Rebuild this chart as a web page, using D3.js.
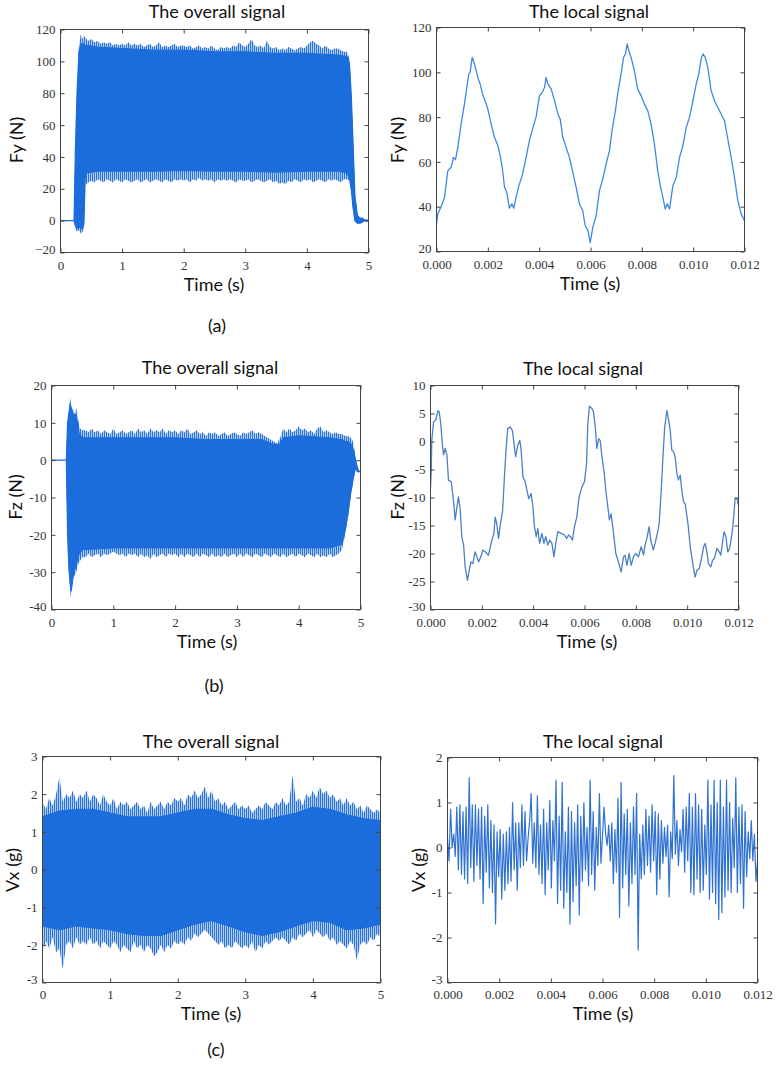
<!DOCTYPE html>
<html><head><meta charset="utf-8">
<script src="https://cdn.jsdelivr.net/npm/d3@7"></script>
<style>
body{margin:0;background:#fff;}
svg{display:block;}
.ttl{font-family:Lato,"Open Sans",sans-serif;font-size:18px;fill:#111;}
</style></head><body>
<svg id="chart" width="777" height="1067"></svg>
<script>
// ---------------- DATA ----------------
const overallTicksX = [0, 1, 2, 3, 4, 5];
const localTicksX = [0, 0.002, 0.004, 0.006, 0.008, 0.010, 0.012];
const fyOverallTicksY = [-20, 0, 20, 40, 60, 80, 100, 120];
const fyLocalTicksY = [20, 40, 60, 80, 100, 120];
const fzOverallTicksY = [-40, -30, -20, -10, 0, 10, 20];
const fzLocalTicksY = [-30, -25, -20, -15, -10, -5, 0, 5, 10];
const vxOverallTicksY = [-3, -2, -1, 0, 1, 2, 3];
const vxLocalTicksY = [-3, -2, -1, 0, 1, 2];

// (a) overall Fy envelope (peaks)
const fyEnvT = [0, 0.22, 0.24, 0.27, 0.30, 0.33, 0.36, 0.38,
  0.40, 0.45, 0.50, 0.55, 0.60, 0.65, 0.70, 0.75, 0.80, 0.85, 0.90, 0.95,
  1.00, 1.05, 1.10, 1.15, 1.20, 1.25, 1.30, 1.35, 1.40, 1.45, 1.50, 1.55, 1.60, 1.65, 1.70, 1.75, 1.80, 1.85, 1.90, 1.95,
  2.00, 2.05, 2.10, 2.15, 2.20, 2.25, 2.30, 2.35, 2.40, 2.45, 2.50, 2.55, 2.60, 2.65, 2.70, 2.75, 2.80, 2.85, 2.90, 2.95,
  3.00, 3.05, 3.10, 3.15, 3.20, 3.25, 3.30, 3.35, 3.40, 3.45, 3.50, 3.55, 3.60, 3.65, 3.70, 3.75, 3.80, 3.85, 3.90, 3.95,
  4.00, 4.05, 4.10, 4.15, 4.20, 4.25, 4.30, 4.35, 4.40, 4.45, 4.50, 4.55, 4.60, 4.65,
  4.69, 4.72, 4.75, 4.78, 4.82, 4.86, 4.90, 4.93, 5.00];
const fyEnvHi = [0, 0, 45, 85, 110, 117, 114, 116,
  115, 113, 114, 112, 113, 111, 112, 111, 112, 110, 111, 110,
  111, 110, 112, 110, 111, 110, 111, 109, 110, 111, 109, 110, 112, 109, 110, 109, 110, 111, 109, 110,
  110, 109, 110, 108, 109, 110, 108, 109, 108, 110, 108, 107, 109, 108, 109, 108, 110, 109, 112, 110,
  109, 111, 114, 110, 109, 110, 108, 113, 109, 108, 109, 107, 108, 107, 109, 108, 107, 108, 109, 108,
  110, 112, 113, 111, 110, 108, 110, 108, 107, 108, 108, 107, 106, 106,
  102, 82, 52, 18, 4, 2, 2, 1, 0.5];
const fyEnvLo = [0, 0, -5, -7, -6, -8, -7, -4,
  22, 24, 25, 24, 26, 25, 24, 26, 25, 24, 26, 25,
  24, 26, 25, 24, 25, 26, 24, 25, 26, 24, 25, 26, 25, 24, 26, 25, 24, 26, 25, 26,
  25, 26, 24, 26, 25, 27, 25, 26, 25, 26, 24, 26, 25, 26, 25, 26, 25, 24, 26, 25,
  25, 26, 24, 25, 26, 25, 24, 25, 26, 24, 25, 23, 24, 23, 25, 24, 26, 25, 24, 26,
  25, 26, 24, 25, 26, 25, 24, 26, 25, 26, 25, 24, 26, 26,
  25, 18, 6, -1, -2, -2, -1.5, 0, 0];
// (a) overall Fy dense core
const fyCoreT = [0, 0.22, 0.24, 0.27, 0.30, 0.33, 0.36, 0.38, 0.40, 0.42, 0.6, 1.0, 1.5, 2.0, 2.5, 3.0, 3.5, 4.0, 4.5, 4.65, 4.69, 4.72, 4.75, 4.78, 4.82, 4.86, 4.90, 4.93, 5.0];
const fyCoreHi = [0, 0, 42, 82, 106, 111, 111, 111, 110, 110, 109, 108, 107, 107, 106, 106, 105, 105, 104, 103, 99, 79, 48, 15, 3, 1.5, 1.5, 0.5, 0];
const fyCoreLo = [0, 0, -3, -5, -4, -5, -5, -2, 26, 30, 31, 31, 31, 31.5, 31, 31, 30.5, 31, 31, 30, 27, 20, 8, 0, -1.5, -1.5, -1, 0, 0];

// (a) local Fy
const fyLocalT = [0, 0.00005, 0.00018, 0.00031, 0.00044, 0.00057, 0.00066, 0.00074, 0.00083, 0.00096,
  0.00109, 0.00118, 0.00126, 0.00131, 0.00139, 0.00148, 0.00161, 0.00170, 0.00181, 0.00187,
  0.00200, 0.00213, 0.00226, 0.00239, 0.00248, 0.00256, 0.00265, 0.00274, 0.00284, 0.00294,
  0.00301, 0.00310, 0.00321, 0.00334, 0.00349, 0.00362, 0.00378, 0.00388, 0.00401, 0.00412,
  0.00421, 0.00427, 0.00434, 0.00447, 0.00460, 0.00473, 0.00482, 0.00492, 0.00505, 0.00518,
  0.00531, 0.00544, 0.00557, 0.00570, 0.00579, 0.00590, 0.00599, 0.00609, 0.00622, 0.00635,
  0.00648, 0.00661, 0.00674, 0.00684, 0.00697, 0.00706, 0.00719, 0.00729, 0.00736, 0.00743,
  0.00749, 0.00758, 0.00771, 0.00784, 0.00797, 0.00810, 0.00823, 0.00836, 0.00849, 0.00862,
  0.00873, 0.00882, 0.00891, 0.00899, 0.00908, 0.00921, 0.00934, 0.00947, 0.00960, 0.00973,
  0.00986, 0.00999, 0.01012, 0.01022, 0.01031, 0.01038, 0.01047, 0.01057, 0.01070, 0.01083,
  0.01096, 0.01109, 0.01122, 0.01135, 0.01148, 0.01161, 0.01174, 0.01187, 0.012];
const fyLocalV = [32.3, 36.8, 40, 44, 56, 57.6, 62, 61, 66.5, 77,
  86, 93.3, 99.3, 100, 106.7, 103.7, 97.7, 94.8, 89.6, 88,
  83.6, 76.9, 71, 67.2, 62.8, 57.6, 48.7, 46.4, 39.3, 41.3,
  39.3, 44.2, 49.4, 53.9, 62, 69.5, 76.2, 80, 89.6, 91,
  93.3, 97.7, 94.8, 92.5, 87.3, 81.4, 79.1, 71, 66.5, 62,
  55.3, 48.7, 41.2, 38.2, 31.6, 29.3, 24, 30.8, 36, 47.2,
  52.4, 59.1, 65, 74, 82.9, 90.3, 99.3, 106.7, 108.2, 112.7,
  109.7, 106.7, 100.8, 92.5, 89.6, 85.8, 82.9, 76.9, 68, 56,
  48.7, 44.2, 39, 41.3, 39, 49.4, 53, 62, 67.3, 75.4,
  80, 87.3, 94.8, 99.3, 106, 108.2, 106.7, 102.2, 91.8, 87.3,
  84.3, 81.4, 78.4, 70.2, 62, 53, 42.7, 36.8, 33.8];

// (b) overall Fz envelope (peaks)
const fzEnvT = [0, 0.24, 0.26, 0.28, 0.30, 0.31, 0.33, 0.35, 0.37, 0.40, 0.43, 0.46, 0.50,
  0.55, 0.60, 0.65, 0.70, 0.75, 0.80, 0.85, 0.90, 0.95,
  1.00, 1.05, 1.10, 1.15, 1.20, 1.25, 1.30, 1.35, 1.40, 1.45, 1.50, 1.55, 1.60, 1.65, 1.70, 1.75, 1.80, 1.85, 1.90, 1.95,
  2.00, 2.05, 2.10, 2.15, 2.20, 2.25, 2.30, 2.35, 2.40, 2.45, 2.50, 2.55, 2.60, 2.65, 2.70, 2.75, 2.80, 2.85, 2.90, 2.95,
  3.00, 3.05, 3.10, 3.15, 3.20, 3.25, 3.30, 3.35, 3.40, 3.45, 3.50, 3.55, 3.60, 3.65, 3.70, 3.75, 3.80, 3.85, 3.90, 3.95,
  4.00, 4.05, 4.10, 4.15, 4.20, 4.25, 4.30, 4.35, 4.40, 4.45, 4.50, 4.55, 4.60, 4.65, 4.70, 4.75, 4.80,
  4.84, 4.88, 4.92, 4.95, 4.97, 5.00];
const fzEnvHi = [0, 0, 12, 13, 16.5, 16, 13, 14, 12, 14, 11, 8.5, 8,
  8, 7.5, 8.5, 7.5, 8, 7, 8, 7.5, 7,
  8.5, 7, 7.5, 8, 7, 7.5, 8, 7, 8.5, 7.5, 8, 7, 8.5, 7.5, 8, 7.5, 8.5, 7, 8, 7.5,
  8, 7, 8, 7.5, 8.5, 7, 7.5, 8, 7, 7.5, 6.5, 7.5, 7, 7.5, 6.5, 7, 7.5, 6.5, 7, 7.5,
  7, 6.5, 7.5, 7, 7.5, 8, 7, 7.5, 7, 6.5, 6, 5.5, 5, 4.5, 6, 8.5, 7.5, 8.5, 7.5, 8,
  9, 8, 8.5, 7.5, 8, 7, 8.5, 9, 7.5, 8, 7.5, 7, 7.5, 7, 7, 6.5, 6.5,
  6, 5, 1, -2, -3, -3];
const fzEnvLo = [0, 0, -22, -30, -34, -37, -34, -32, -31, -30, -28, -27, -26,
  -26, -25, -26, -25.5, -25, -26, -25, -25.5, -25,
  -24.5, -25, -25.5, -25, -26, -25, -25.5, -25, -26, -25, -26, -25.5, -26.5, -25, -26, -25.5, -25, -26, -25, -25.5,
  -25, -26, -25, -26, -25, -25.5, -26, -25, -26, -25, -25.5, -26, -25, -26, -25.5, -26, -25, -26, -25.5, -25,
  -26, -25, -26, -25, -25.5, -26, -25, -25.5, -26, -25, -25.5, -26, -25, -25.5, -26, -25, -26, -25.5, -25, -26,
  -25, -25.5, -26, -25, -25.5, -26, -25, -26, -25.5, -26, -25, -26, -25.5, -25, -24, -20, -15,
  -10, -6, -2, -3, -3.5, -3];
// (b) overall Fz dense core
const fzCoreT = [0, 0.24, 0.26, 0.28, 0.30, 0.32, 0.35, 0.40, 0.45, 0.5, 1.0, 1.5, 2.0, 2.5, 3.0, 3.4, 3.55, 3.68, 3.75, 4.0, 4.5, 4.7, 4.75, 4.80, 4.84, 4.88, 4.92, 4.95, 4.97, 5.0];
const fzCoreHi = [0, 0, 10, 12, 15, 14, 12.5, 12, 7, 6, 6, 6, 6, 5.5, 5.5, 5.5, 4.5, 4, 6, 6.5, 6, 5.5, 5, 5, 4.5, 3, 0, -2, -3, -3];
const fzCoreLo = [0, 0, -20, -28, -33, -35, -31, -28, -25, -24, -23.5, -23.5, -23.5, -23.5, -23.5, -23.5, -23.5, -23.5, -23.5, -23.5, -23.5, -22.5, -19, -14, -9, -5, -2, -3, -3, -3];

// (b) local Fz
const fzLocalT = [0, 0.00003, 0.00005, 0.00012, 0.00021, 0.00029, 0.00034, 0.00040, 0.00047, 0.00051,
  0.00057, 0.00064, 0.00070, 0.00081, 0.00090, 0.00096, 0.00103, 0.00109, 0.00116, 0.00122,
  0.00129, 0.00135, 0.00144, 0.00152, 0.00158, 0.00165, 0.00174, 0.00181, 0.00187, 0.00196,
  0.00204, 0.00213, 0.00226, 0.00239, 0.00247, 0.00252, 0.00258, 0.00265, 0.00271, 0.00281,
  0.00288, 0.00295, 0.00301, 0.00310, 0.00319, 0.00326, 0.00332, 0.00340, 0.00348, 0.00353,
  0.00360, 0.00369, 0.00377, 0.00383, 0.00392, 0.00399, 0.00405, 0.00412, 0.00418, 0.00425,
  0.00434, 0.00442, 0.00449, 0.00457, 0.00465, 0.00473, 0.00481, 0.00488, 0.00496, 0.00509,
  0.00522, 0.00530, 0.00538, 0.00545, 0.00553, 0.00561, 0.00570, 0.00579, 0.00590, 0.00600,
  0.00608, 0.00613, 0.00619, 0.00629, 0.00635, 0.00642, 0.00648, 0.00655, 0.00661, 0.00668,
  0.00677, 0.00683, 0.00691, 0.00697, 0.00704, 0.00713, 0.00722, 0.00732, 0.00743, 0.00752,
  0.00758, 0.00765, 0.00774, 0.00782, 0.00791, 0.00800, 0.00810, 0.00821, 0.00830, 0.00836,
  0.00843, 0.00852, 0.00858, 0.00868, 0.00875, 0.00884, 0.00891, 0.00899, 0.00905, 0.00912,
  0.00921, 0.00927, 0.00934, 0.00940, 0.00947, 0.00953, 0.00960, 0.00966, 0.00973, 0.00979,
  0.00986, 0.00992, 0.01003, 0.01012, 0.01022, 0.01031, 0.01038, 0.01047, 0.01057, 0.01064,
  0.01070, 0.01077, 0.01083, 0.01092, 0.01099, 0.01106, 0.01116, 0.01125, 0.01131, 0.01139,
  0.01144, 0.01151, 0.01158, 0.01165, 0.01171, 0.01178, 0.01187, 0.01194, 0.012];
const fzLocalV = [-8.4, -5.1, 0.2, 3.5, 3.9, 5.5, 5.3, 3.2, -1, -2.4,
  -1.25, -2.4, -6.9, -7.2, -10.8, -14, -11.7, -9.9, -12.3, -17,
  -18.5, -22.4, -24.8, -22.7, -21.5, -21.8, -19.7, -20.6, -21.5, -20.6,
  -19.4, -19.7, -20.3, -17.6, -16.4, -13.5, -14.6, -17.3, -15.2, -12.3,
  -6.3, -1, 2.3, 2.6, 2, -0.65, -2.7, -0.65, 0.2, -1.5,
  -6.3, -7.2, -9, -10.2, -9.3, -11.7, -15.2, -17, -15.5, -18.2,
  -16.4, -18.2, -17, -18.5, -17.6, -18.2, -20.6, -18.2, -16.1, -16.4,
  -16.7, -17.3, -16.7, -17, -17.6, -15.2, -13.5, -9.9, -8.1, -7.2,
  -3.9, 3.2, 6.3, 5.9, 5.3, 2.6, -1.25, 0.5, 0.2, -2.7,
  -5.7, -8.7, -11.7, -14, -12.9, -16.4, -20, -21.5, -23.3, -20.6,
  -20.3, -22.1, -20, -22.1, -20.6, -20, -20.6, -18.8, -20.3, -18.5,
  -17.3, -15.2, -17.6, -19.4, -18.2, -16.4, -14.6, -8.7, -3.3, 2.3,
  5.5, 4.1, 2, -1.5, -1.8, -2.7, -5.7, -6.9, -6, -8.7,
  -10.8, -11.1, -14.6, -18.8, -21.8, -24.2, -23, -22.7, -20.6, -18.8,
  -18.2, -19.7, -21.8, -22.4, -21.2, -20.9, -19.1, -19.7, -20.3, -17.6,
  -16.1, -17, -19.7, -19.1, -17.6, -15.2, -10.2, -10.2, -11.4];

// (c) overall Vx envelope (peaks), 0..5 s
const vxEnvT = [0, 0.05, 0.10, 0.15, 0.20, 0.25, 0.30, 0.35, 0.40, 0.45, 0.50, 0.55, 0.60, 0.65, 0.70, 0.75, 0.80, 0.85, 0.90, 0.95,
  1.00, 1.05, 1.10, 1.15, 1.20, 1.25, 1.30, 1.35, 1.40, 1.45, 1.50, 1.55, 1.60, 1.65, 1.70, 1.75, 1.80, 1.85, 1.90, 1.95,
  2.00, 2.05, 2.10, 2.15, 2.20, 2.25, 2.30, 2.35, 2.40, 2.45, 2.50, 2.55, 2.60, 2.65, 2.70, 2.75, 2.80, 2.85, 2.90, 2.95,
  3.00, 3.05, 3.10, 3.15, 3.20, 3.25, 3.30, 3.35, 3.40, 3.45, 3.50, 3.55, 3.60, 3.65, 3.70, 3.75, 3.80, 3.85, 3.90, 3.95,
  4.00, 4.05, 4.10, 4.15, 4.20, 4.25, 4.30, 4.35, 4.40, 4.45, 4.50, 4.55, 4.60, 4.65, 4.70, 4.75, 4.80, 4.85, 4.90, 4.95, 5.00];
const vxEnvHi = [1.8, 1.6, 1.9, 1.7, 2.0, 2.45, 1.8, 2.0, 1.9, 2.1, 1.8, 2.0, 1.9, 2.1, 1.8, 2.0, 1.9, 1.7, 2.0, 1.8,
  1.7, 1.9, 1.6, 1.8, 1.7, 1.8, 1.6, 1.7, 1.8, 1.6, 1.7, 1.5, 1.8, 1.6, 1.7, 1.8, 1.6, 1.8, 1.7, 1.9,
  1.8, 1.9, 1.7, 2.0, 1.9, 2.1, 1.9, 2.0, 2.2, 1.9, 2.1, 1.8, 1.9, 1.7, 1.8, 1.6, 1.7, 1.8, 1.6, 1.7,
  1.6, 1.7, 1.5, 1.6, 1.7, 1.6, 1.8, 1.7, 1.6, 1.8, 1.7, 1.9, 1.7, 1.8, 2.5, 1.8, 1.9, 1.7, 2.0, 1.9,
  2.1, 1.9, 2.2, 2.0, 2.1, 1.9, 2.0, 1.8, 1.9, 1.7, 1.9, 1.7, 1.8, 1.6, 1.7, 1.5, 1.7, 1.6, 1.5, 1.6, 1.5];
const vxEnvLo = [-2.2, -1.9, -2.1, -1.8, -2.2, -2.1, -2.65, -2.0, -1.9, -2.1, -1.8, -2.0, -1.9, -2.0, -1.8, -2.0, -1.9, -2.1, -1.9, -2.0,
  -2.1, -1.9, -2.0, -2.2, -2.0, -2.1, -2.2, -1.9, -2.1, -2.0, -2.2, -2.0, -2.1, -2.3, -2.2, -2.0, -2.2, -2.0, -2.1, -1.9,
  -2.0, -1.9, -2.0, -1.8, -1.9, -1.7, -1.8, -1.7, -1.6, -1.7, -1.8, -1.9, -2.0, -1.9, -2.1, -2.0, -2.1, -1.9, -2.0, -2.1,
  -2.0, -2.1, -1.9, -2.2, -2.0, -2.1, -1.9, -2.0, -1.9, -1.8, -1.9, -1.8, -1.9, -2.0, -1.8, -1.9, -1.7, -1.8, -1.7, -1.6,
  -1.8, -1.6, -1.7, -1.8, -1.7, -1.9, -1.8, -2.0, -1.9, -2.0, -2.1, -1.9, -2.0, -2.4, -2.0, -1.9, -2.0, -1.8, -1.9, -1.7, -1.8];
// (c) overall Vx dense core
const vxCoreT = [0, 0.25, 0.5, 0.75, 1.0, 1.25, 1.5, 1.75, 2.0, 2.25, 2.5, 2.75, 3.0, 3.25, 3.5, 3.75, 4.0, 4.25, 4.5, 4.75, 5.0];
const vxCoreHi = [1.4, 1.55, 1.6, 1.6, 1.5, 1.4, 1.4, 1.4, 1.5, 1.6, 1.6, 1.45, 1.35, 1.3, 1.4, 1.5, 1.65, 1.6, 1.45, 1.35, 1.3];
const vxCoreLo = [-1.5, -1.6, -1.5, -1.55, -1.6, -1.7, -1.75, -1.75, -1.6, -1.45, -1.35, -1.5, -1.65, -1.75, -1.65, -1.5, -1.35, -1.4, -1.6, -1.55, -1.45];

// (c) local Vx, sampled every 0.00006 s from 0 to 0.012 s
const vxLocalDt = 0.00006;
const vxLocalV = [0.2, -0.3, 0.85, 0.0, 0.3, -0.2, 0.9, -0.5, 0.95, -0.6,
  0.8, -0.7, 0.9, -0.8, 1.55, -0.45, 0.95, -0.75, 0.95, -0.4,
  0.85, -0.7, 0.9, -1.25, 0.7, -0.55, 0.95, -0.9, 0.6, -1.0,
  0.5, -1.7, 0.35, -0.65, 0.4, -1.15, 0.3, -0.95, 0.35, -0.8,
  0.45, -0.75, 1.0, -0.5, 0.55, -0.95, 0.55, -0.45, 0.95, -0.4,
  0.8, -0.3, 0.2, 0.6, 1.2, -0.35, 0.55, -0.45, 1.15, -0.6,
  0.5, -0.8, 0.85, -1.05, 0.55, -0.5, 1.05, -0.9, 0.6, -0.3,
  1.5, -1.25, 0.7, -0.95, 1.45, -1.35, 0.35, -1.0, 0.9, -1.7,
  0.8, -1.2, 0.55, -0.85, 0.95, -1.5, 0.7, -0.75, 1.0, -0.5,
  0.45, -0.85, 1.5, -0.6, 0.8, -0.95, 0.45, -0.4, 1.2, -0.35,
  0.25, 0.9, 0.3, 0.05, 0.5, -0.3, 0.55, -0.8, 0.4, -0.55,
  1.1, -1.55, 1.45, -0.9, 0.75, -0.6, 0.85, -1.3, 0.55, -0.8,
  0.9, -0.6, 1.2, -2.28, 0.3, -0.7, 0.5, -0.6, 0.85, -0.4,
  0.7, -0.55, 0.95, -0.3, 0.8, -1.05, 0.75, -0.7, 0.6, -0.35,
  0.45, -0.2, 0.5, -1.1, 0.35, -0.25, 1.6, -0.15, 0.6, -0.4,
  0.4, -0.1, 0.85, -0.55, 0.9, -0.3, 1.2, -1.0, 0.9, -1.05,
  1.2, -0.7, 0.95, -1.0, 0.85, -0.95, 0.5, -0.6, 1.5, -1.15,
  0.95, -1.0, 1.5, -1.25, 1.0, -1.6, 1.5, -1.45, 0.9, -1.1,
  1.5, -0.95, 1.0, -1.0, 0.65, -0.45, 1.55, -1.0, 0.9, -0.8,
  0.95, -1.35, 0.8, -0.65, 0.35, -0.25, 0.6, -0.3, 0.3, -0.75,
  -0.3];

// ---------------- DRAWING ----------------
const svg = d3.select("#chart");
const defs = svg.append("defs");
const hyphenFmt = d => (d < 0 ? "-" + Math.abs(d) : String(d));
const localFmt = d3.format(".3f");
const SERIF = '"Liberation Serif", "Times New Roman", Times, serif';

// vertical hair texture for the ragged fringe of the dense signal
const pat = defs.append("pattern").attr("id", "hair").attr("patternUnits", "userSpaceOnUse")
  .attr("width", 2).attr("height", 8);
pat.append("rect").attr("width", 2).attr("height", 8).attr("fill", "#b2cdf0");
pat.append("rect").attr("width", 1).attr("height", 8).attr("fill", "#2b74dc");

function makePanel(c) {
  const x = d3.scaleLinear().domain(c.xDomain).range([c.L, c.R]);
  const y = d3.scaleLinear().domain(c.yDomain).range([c.B, c.T]);
  defs.append("clipPath").attr("id", c.id).append("rect")
    .attr("x", c.L).attr("y", c.T).attr("width", c.R - c.L).attr("height", c.B - c.T);
  const data = svg.append("g").attr("clip-path", `url(#${c.id})`);
  const finish = () => {
    const ax = svg.append("g");
    const tuneAxis = g => {
      g.attr("font-family", null).attr("font-size", null);
      g.select(".domain").remove();
      g.selectAll("line").attr("stroke", "#444");
      g.selectAll("text").style("font-family", SERIF).style("font-size", "13px").style("fill", "#333");
    };
    ax.append("g").attr("transform", `translate(0,${c.B})`)
      .call(d3.axisBottom(x).tickValues(c.xTicks).tickFormat(c.xFmt).tickSizeInner(-4).tickSizeOuter(0).tickPadding(c.xPad)).call(tuneAxis);
    ax.append("g").attr("transform", `translate(0,${c.T})`)
      .call(d3.axisTop(x).tickValues(c.xTicks).tickFormat("").tickSizeInner(-4).tickSizeOuter(0)).call(tuneAxis);
    const yAx = ax.append("g").attr("transform", `translate(${c.L},0)`)
      .call(d3.axisLeft(y).tickValues(c.yTicks).tickFormat(c.yFmt).tickSizeInner(-4).tickSizeOuter(0).tickPadding(5)).call(tuneAxis);
    // lift the lowest y label a little so it does not sit on the first x label
    yAx.selectAll(".tick").filter(d => d === c.yDomain[0]).select("text").attr("dy", "0.1em");
    ax.append("g").attr("transform", `translate(${c.R},0)`)
      .call(d3.axisRight(y).tickValues(c.yTicks).tickFormat("").tickSizeInner(-4).tickSizeOuter(0)).call(tuneAxis);
    ax.append("rect").attr("x", c.L).attr("y", c.T).attr("width", c.R - c.L).attr("height", c.B - c.T)
      .attr("fill", "none").attr("stroke", "#444").attr("stroke-width", 1);
    svg.append("text").attr("class", "ttl").attr("x", c.titleX).attr("y", c.titleY).attr("text-anchor", "middle").text(c.title);
    svg.append("text").attr("class", "ttl").attr("x", c.xLabX).attr("y", c.xLabY).attr("text-anchor", "middle").text("Time (s)");
    svg.append("text").attr("class", "ttl").attr("text-anchor", "middle").attr("dominant-baseline", "central")
      .attr("transform", `translate(${c.yLabX},${c.yLabY}) rotate(-90)`).text(c.yLabel);
  };
  return { x, y, data, finish };
}

function drawOverall(p, envT, envHi, envLo, coreT, coreHi, coreLo) {
  const env = envT.map((t, i) => ({ t, hi: envHi[i], lo: envLo[i] }));
  const core = coreT.map((t, i) => ({ t, hi: coreHi[i], lo: coreLo[i] }));
  p.data.append("path").datum(env)
    .attr("d", d3.area().x(d => p.x(d.t)).y0(d => p.y(d.lo)).y1(d => p.y(d.hi)))
    .attr("fill", "url(#hair)");
  p.data.append("path").datum(core)
    .attr("d", d3.area().x(d => p.x(d.t)).y0(d => p.y(d.lo)).y1(d => p.y(d.hi)))
    .attr("fill", "#1c6ddc").attr("stroke", "#1c6ddc").attr("stroke-width", 1.2).attr("stroke-linejoin", "round");
}

function drawLocal(p, ts, vs, color, w) {
  const pts = ts.map((t, i) => [t, vs[i]]);
  p.data.append("path").datum(pts)
    .attr("d", d3.line().x(d => p.x(d[0])).y(d => p.y(d[1])))
    .attr("fill", "none").attr("stroke", color).attr("stroke-width", w).attr("stroke-linejoin", "round");
}

// (a)
const pA1 = makePanel({ id: "cA1", L: 60.5, R: 368.5, T: 29.5, B: 252.5, xDomain: [0, 5], yDomain: [-20, 120],
  xTicks: overallTicksX, yTicks: fyOverallTicksY, xFmt: d3.format("d"), yFmt: d3.format("d"), xPad: 8,
  title: "The overall signal", titleX: 217, titleY: 18, xLabX: 214, xLabY: 291, yLabel: "Fy (N)", yLabX: 16, yLabY: 140 });
drawOverall(pA1, fyEnvT, fyEnvHi, fyEnvLo, fyCoreT, fyCoreHi, fyCoreLo);
pA1.finish();

const pA2 = makePanel({ id: "cA2", L: 436.5, R: 744.5, T: 27.5, B: 251.5, xDomain: [0, 0.012], yDomain: [20, 120],
  xTicks: localTicksX, yTicks: fyLocalTicksY, xFmt: localFmt, yFmt: d3.format("d"), xPad: 8,
  title: "The local signal", titleX: 589, titleY: 18, xLabX: 590, xLabY: 290, yLabel: "Fy (N)", yLabX: 397, yLabY: 140 });
drawLocal(pA2, fyLocalT, fyLocalV, "#3f88e0", 1.3);
pA2.finish();

// (b)
const pB1 = makePanel({ id: "cB1", L: 51.5, R: 360.5, T: 385.5, B: 609.5, xDomain: [0, 5], yDomain: [-40, 20],
  xTicks: overallTicksX, yTicks: fzOverallTicksY, xFmt: d3.format("d"), yFmt: hyphenFmt, xPad: 8,
  title: "The overall signal", titleX: 210, titleY: 374, xLabX: 207, xLabY: 648, yLabel: "Fz (N)", yLabX: 15, yLabY: 497 });
drawOverall(pB1, fzEnvT, fzEnvHi, fzEnvLo, fzCoreT, fzCoreHi, fzCoreLo);
pB1.finish();

const pB2 = makePanel({ id: "cB2", L: 430.5, R: 738.5, T: 385.5, B: 609.5, xDomain: [0, 0.012], yDomain: [-30, 10],
  xTicks: localTicksX, yTicks: fzLocalTicksY, xFmt: localFmt, yFmt: hyphenFmt, xPad: 8,
  title: "The local signal", titleX: 583, titleY: 375, xLabX: 587, xLabY: 648, yLabel: "Fz (N)", yLabX: 397, yLabY: 497 });
drawLocal(pB2, fzLocalT, fzLocalV, "#4a80c4", 1.3);
pB2.finish();

// (c)
const pC1 = makePanel({ id: "cC1", L: 42.5, R: 380.5, T: 756.5, B: 982.5, xDomain: [0, 5], yDomain: [-3, 3],
  xTicks: overallTicksX, yTicks: vxOverallTicksY, xFmt: d3.format("d"), yFmt: hyphenFmt, xPad: 7,
  title: "The overall signal", titleX: 211, titleY: 748, xLabX: 211, xLabY: 1020, yLabel: "Vx (g)", yLabX: 12, yLabY: 870 });
drawOverall(pC1, vxEnvT, vxEnvHi, vxEnvLo, vxCoreT, vxCoreHi, vxCoreLo);
pC1.finish();

const pC2 = makePanel({ id: "cC2", L: 447.5, R: 757.5, T: 757.5, B: 982.5, xDomain: [0, 0.012], yDomain: [-3, 2],
  xTicks: localTicksX, yTicks: vxLocalTicksY, xFmt: localFmt, yFmt: hyphenFmt, xPad: 7,
  title: "The local signal", titleX: 603, titleY: 748, xLabX: 603, xLabY: 1020, yLabel: "Vx (g)", yLabX: 418, yLabY: 870 });
drawLocal(pC2, vxLocalV.map((v, i) => i * vxLocalDt), vxLocalV, "#2f72d2", 1.2);
pC2.finish();

// sub-figure labels
svg.append("text").attr("class", "ttl").attr("x", 217).attr("y", 332).attr("text-anchor", "middle").text("(a)");
svg.append("text").attr("class", "ttl").attr("x", 214).attr("y", 692).attr("text-anchor", "middle").text("(b)");
svg.append("text").attr("class", "ttl").attr("x", 216).attr("y", 1056).attr("text-anchor", "middle").text("(c)");
</script>
</body></html>
